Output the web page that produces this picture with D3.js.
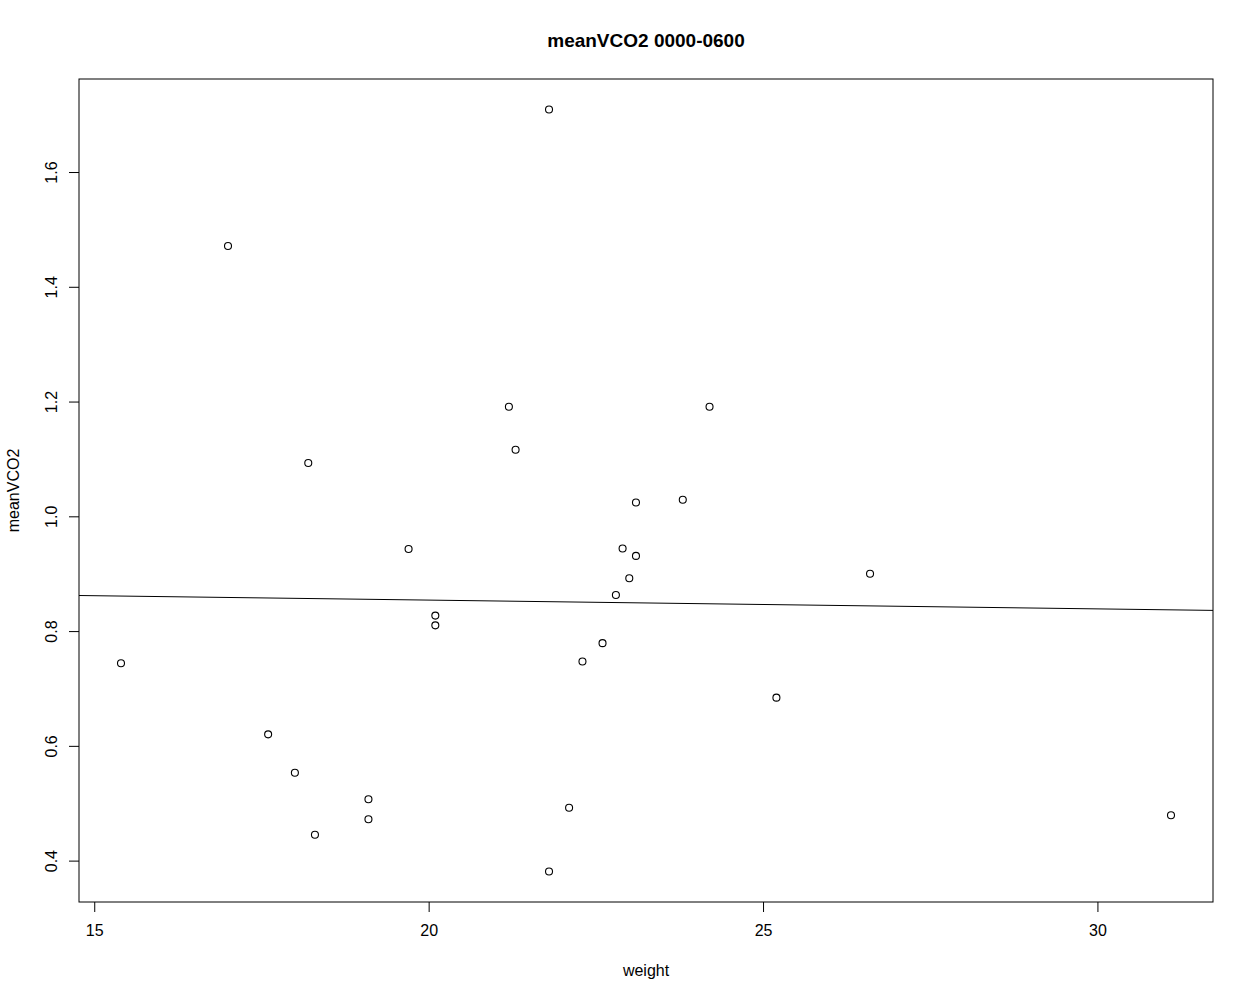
<!DOCTYPE html>
<html>
<head>
<meta charset="utf-8">
<script src="https://cdn.jsdelivr.net/npm/d3@7"></script>
<style>
  body { margin: 0; background: #fff; }
  text { font-family: "Liberation Sans", Arial, sans-serif; fill: #000; }
</style>
</head>
<body>
<svg width="1254" height="1000"></svg>
<script>
// weight vs meanVCO2
var weight = [21.8, 17.0, 18.2, 15.4, 17.6, 18.0, 18.3, 19.1, 19.1, 21.2,
              24.2, 21.3, 23.1, 23.8, 19.7, 22.9, 23.1, 23.0, 22.8, 20.1,
              20.1, 22.6, 22.3, 22.1, 21.8, 26.6, 25.2, 31.1];
var meanVCO2 = [1.709, 1.471, 1.093, 0.744, 0.620, 0.553, 0.445, 0.507, 0.472, 1.191,
                1.191, 1.116, 1.024, 1.029, 0.943, 0.944, 0.931, 0.892, 0.863, 0.827,
                0.810, 0.779, 0.747, 0.492, 0.381, 0.900, 0.684, 0.479];
var xTicks = [15, 20, 25, 30];
var yTicks = [0.4, 0.6, 0.8, 1.0, 1.2, 1.4, 1.6];
// abline(lm(meanVCO2 ~ weight))
var fitIntercept = 0.8846, fitSlope = -0.00153;

var svg = d3.select("svg"),
    margin = {top: 79, right: 41, bottom: 98, left: 79},
    width = +svg.attr("width") - margin.left - margin.right,
    height = +svg.attr("height") - margin.top - margin.bottom,
    g = svg.append("g").attr("transform", "translate(" + margin.left + "," + margin.top + ")");

var data = weight.map(function(w, i) { return {w: w, v: meanVCO2[i]}; });

// R style 4% padding
function pad(ext) {
  var r = (ext[1] - ext[0]) * 0.04;
  return [ext[0] - r, ext[1] + r];
}

var x = d3.scaleLinear().domain(pad(d3.extent(weight))).range([0, width]);
var y = d3.scaleLinear().domain(pad(d3.extent(meanVCO2))).range([height, 0]);

g.append("rect")
    .attr("width", width)
    .attr("height", height)
    .attr("fill", "none")
    .attr("stroke", "#000")
    .attr("stroke-width", 1);

g.append("g")
    .attr("class", "axis axis--x")
    .attr("transform", "translate(0," + height + ")")
    .call(d3.axisBottom(x).tickValues(xTicks).tickSize(10).tickPadding(13).tickFormat(d3.format("d")))
    .call(function(a) {
      a.select(".domain").remove();
      a.selectAll("text").style("font-size", "16px").style("font-family", "Liberation Sans, Arial, sans-serif");
    });

var yAxis = g.append("g")
    .attr("class", "axis axis--y")
    .call(d3.axisLeft(y).tickValues(yTicks).tickSize(10).tickFormat(d3.format(".1f")));
yAxis.select(".domain").remove();
yAxis.selectAll(".tick text")
    .attr("x", null).attr("dy", null)
    .attr("transform", "translate(-22,0) rotate(-90)")
    .style("text-anchor", "middle")
    .style("font-size", "16px")
    .style("font-family", "Liberation Sans, Arial, sans-serif");

g.append("line")
    .attr("x1", 0).attr("x2", width)
    .attr("y1", y(fitIntercept + fitSlope * x.domain()[0]))
    .attr("y2", y(fitIntercept + fitSlope * x.domain()[1]))
    .attr("stroke", "#000")
    .attr("stroke-width", 1);

g.selectAll(".dot")
    .data(data)
  .enter().append("circle")
    .attr("class", "dot")
    .attr("cx", function(d) { return x(d.w); })
    .attr("cy", function(d) { return y(d.v); })
    .attr("r", 3.5)
    .attr("fill", "none")
    .attr("stroke", "#000")
    .attr("stroke-width", 1.1);

svg.append("text")
    .attr("x", margin.left + width / 2)
    .attr("y", 47)
    .attr("text-anchor", "middle")
    .style("font-size", "19px")
    .style("font-weight", "bold")
    .text("meanVCO2 0000-0600");

svg.append("text")
    .attr("x", margin.left + width / 2)
    .attr("y", 976)
    .attr("text-anchor", "middle")
    .style("font-size", "16px")
    .text("weight");

svg.append("text")
    .attr("transform", "translate(19," + (margin.top + height / 2) + ") rotate(-90)")
    .attr("text-anchor", "middle")
    .style("font-size", "16px")
    .text("meanVCO2");
</script>
</body>
</html>
